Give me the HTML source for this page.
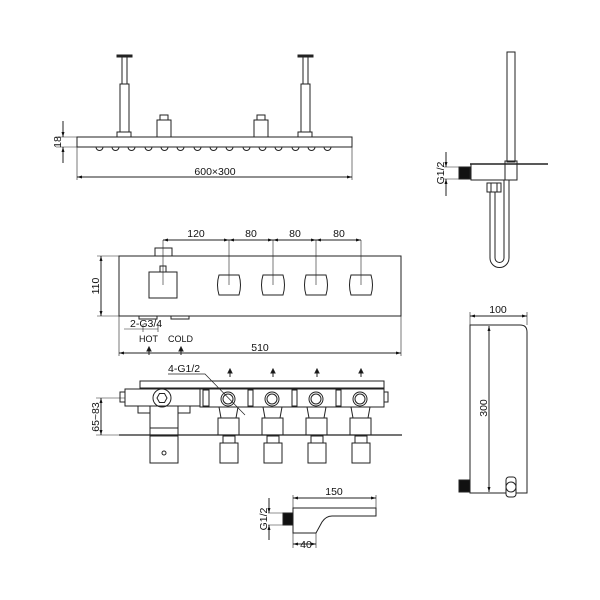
<!DOCTYPE html>
<html><head><style>body{margin:0;background:#fff}svg{display:block}text{font-family:"Liberation Sans",sans-serif;font-size:10.5px;fill:#111}</style></head>
<body>
<svg width="600" height="600" viewBox="0 0 600 600" xmlns="http://www.w3.org/2000/svg">
<defs>
<marker id="a" viewBox="0 0 10 10" refX="10" refY="5" markerWidth="7" markerHeight="5" orient="auto-start-reverse"><path d="M0,2 L10,5 L0,8z" fill="#111"/></marker>
</defs>
<g fill="none" stroke="#222" stroke-width="1">
<!-- TOP VIEW -->
<rect x="77" y="137" width="275" height="10"/>
<g id="bumps">
<path d="M96,147 a3.5,3.5 0 0 0 7,0"/><path d="M112,147 a3.5,3.5 0 0 0 7,0"/><path d="M128,147 a3.5,3.5 0 0 0 7,0"/><path d="M145,147 a3.5,3.5 0 0 0 7,0"/><path d="M161,147 a3.5,3.5 0 0 0 7,0"/><path d="M177,147 a3.5,3.5 0 0 0 7,0"/><path d="M194,147 a3.5,3.5 0 0 0 7,0"/><path d="M210,147 a3.5,3.5 0 0 0 7,0"/><path d="M226,147 a3.5,3.5 0 0 0 7,0"/><path d="M243,147 a3.5,3.5 0 0 0 7,0"/><path d="M259,147 a3.5,3.5 0 0 0 7,0"/><path d="M275,147 a3.5,3.5 0 0 0 7,0"/><path d="M292,147 a3.5,3.5 0 0 0 7,0"/><path d="M308,147 a3.5,3.5 0 0 0 7,0"/><path d="M324,147 a3.5,3.5 0 0 0 7,0"/>
</g>
<rect x="117" y="132" width="14" height="5"/><rect x="120" y="84" width="9" height="48"/><rect x="122" y="57" width="5" height="27"/><rect x="117" y="55" width="15" height="2" fill="#222"/>
<rect x="298" y="132" width="14" height="5"/><rect x="301" y="84" width="9" height="48"/><rect x="303" y="57" width="5" height="27"/><rect x="298" y="55" width="15" height="2" fill="#222"/>
<rect x="157" y="120" width="14" height="17"/><rect x="160" y="115" width="8" height="5"/>
<rect x="254" y="120" width="14" height="17"/><rect x="257" y="115" width="8" height="5"/>
<path d="M56,137 H77 M56,147 H77" stroke-width=".6"/>
<line x1="63" y1="121" x2="63" y2="137" marker-end="url(#a)"/><line x1="63" y1="163" x2="63" y2="147" marker-end="url(#a)"/>
<path d="M77,147 V180 M352,147 V180" stroke-width=".6"/>
<line x1="77" y1="177" x2="352" y2="177" marker-start="url(#a)" marker-end="url(#a)"/>

<!-- FRONT PANEL -->
<rect x="119" y="256" width="282" height="60"/>
<rect x="155" y="248" width="17" height="8"/>
<rect x="149" y="272" width="28" height="26"/><rect x="160" y="266" width="6" height="6"/>
<g id="knobs">
<path d="M219,275 h20 q3,10 0,20 h-20 q-3,-10 0,-20z"/><path d="M263,275 h20 q3,10 0,20 h-20 q-3,-10 0,-20z"/><path d="M306,275 h20 q3,10 0,20 h-20 q-3,-10 0,-20z"/><path d="M351,275 h20 q3,10 0,20 h-20 q-3,-10 0,-20z"/>
</g>
<path d="M163,240 V285 M229,240 V285 M273,240 V285 M316,240 V285 M361,240 V285" stroke-width=".6"/>
<line x1="163" y1="240" x2="229" y2="240" marker-start="url(#a)" marker-end="url(#a)"/>
<line x1="229" y1="240" x2="273" y2="240" marker-start="url(#a)" marker-end="url(#a)"/>
<line x1="273" y1="240" x2="316" y2="240" marker-start="url(#a)" marker-end="url(#a)"/>
<line x1="316" y1="240" x2="361" y2="240" marker-start="url(#a)" marker-end="url(#a)"/>
<path d="M97,256 H119 M97,316 H119" stroke-width=".6"/>
<line x1="101" y1="256" x2="101" y2="316" marker-start="url(#a)" marker-end="url(#a)"/>
<rect x="139" y="316" width="18" height="3"/><rect x="171" y="316" width="18" height="3"/>
<path d="M124,329 H158 M143,324 V332 M158,324 V332" stroke-width=".6"/>
<path d="M149,355 V349 M181,355 V349" /><path d="M147,351 L149,347 L151,351z M179,351 L181,347 L183,351z" fill="#111"/>
<path d="M119,316 V356 M401,316 V356" stroke-width=".6"/>
<line x1="119" y1="353" x2="401" y2="353" marker-start="url(#a)" marker-end="url(#a)"/>

<!-- MANIFOLD -->
<rect x="140" y="381" width="244" height="7"/>
<line x1="119" y1="435" x2="402" y2="435" stroke-width="1.3"/>
<rect x="125" y="389" width="75" height="17" fill="#fff"/>
<rect x="120" y="392" width="5" height="10"/>
<circle cx="162" cy="398" r="9" fill="#fff"/><polygon points="157,398 159.5,393.5 164.5,393.5 167,398 164.5,402.5 159.5,402.5"/>
<rect x="138" y="406" width="12" height="7"/><rect x="178" y="406" width="12" height="7"/>
<rect x="150" y="406" width="28" height="22"/><rect x="150" y="428" width="28" height="7"/>
<rect x="150" y="436" width="28" height="27"/><circle cx="164" cy="453" r="2"/>
<rect x="200" y="389" width="184" height="18" fill="#fff"/>
<rect x="384" y="392" width="4" height="10"/>
<rect x="203" y="390" width="6" height="16"/><rect x="248" y="390" width="5" height="16"/><rect x="292" y="390" width="5" height="16"/><rect x="336" y="390" width="5" height="16"/>
<g id="valves">
<circle cx="228" cy="399" r="7"/><circle cx="228" cy="399" r="5"/><path d="M219,407 L221,418 H236 L238,407"/><rect x="218" y="418" width="21" height="17"/><rect x="220" y="443" width="18" height="20"/><rect x="223" y="436" width="12" height="7"/>
<circle cx="272" cy="399" r="7"/><circle cx="272" cy="399" r="5"/><path d="M263,407 L265,418 H280 L282,407"/><rect x="262" y="418" width="21" height="17"/><rect x="264" y="443" width="18" height="20"/><rect x="267" y="436" width="12" height="7"/>
<circle cx="316" cy="399" r="7"/><circle cx="316" cy="399" r="5"/><path d="M307,407 L309,418 H324 L326,407"/><rect x="306" y="418" width="21" height="17"/><rect x="308" y="443" width="18" height="20"/><rect x="311" y="436" width="12" height="7"/>
<circle cx="360" cy="399" r="7"/><circle cx="360" cy="399" r="5"/><path d="M351,407 L353,418 H368 L370,407"/><rect x="350" y="418" width="21" height="17"/><rect x="352" y="443" width="18" height="20"/><rect x="355" y="436" width="12" height="7"/>
</g>
<path d="M230,377 V372 M273,377 V372 M317,377 V372 M361,377 V372"/>
<path d="M228,373 L230,369 L232,373z M271,373 L273,369 L275,373z M315,373 L317,369 L319,373z M359,373 L361,369 L363,373z" fill="#111"/>
<path d="M168,374 H205 L245,415" stroke-width=".7"/>
<path d="M96,398 H125 M96,435 H119" stroke-width=".6"/>
<line x1="101" y1="398" x2="101" y2="435" marker-start="url(#a)" marker-end="url(#a)"/>

<!-- RIGHT TOP -->
<rect x="507" y="52" width="8" height="110"/>
<line x1="470" y1="164" x2="548" y2="164" stroke-width="1.5"/>
<rect x="471" y="164" width="46" height="16"/>
<rect x="505" y="161" width="12" height="19"/>
<rect x="459" y="167" width="11" height="12" fill="#111"/>
<path d="M490,192 V258 A9.5,9.5 0 0 0 509,258 V180 M495,192 V258 A4.5,4.5 0 0 0 504,258 V180"/>
<rect x="487" y="183" width="14" height="9" fill="#fff"/><path d="M491,183 V192 M497,183 V192"/>
<path d="M444,167 H459 M444,179 H459" stroke-width=".6"/>
<line x1="446" y1="152" x2="446" y2="167" marker-end="url(#a)"/><line x1="446" y1="196" x2="446" y2="179" marker-end="url(#a)"/>

<!-- RIGHT BOTTOM -->
<path d="M470,325 H520 Q527,325 527,332 V493 H470 Z"/>
<rect x="459" y="480" width="11" height="12" fill="#111"/>
<rect x="506" y="477" width="10" height="20" rx="3" fill="#fff"/><circle cx="511" cy="487" r="5"/>
<path d="M470,312 V325 M527,312 V325" stroke-width=".6"/>
<line x1="470" y1="316" x2="527" y2="316" marker-start="url(#a)" marker-end="url(#a)"/>
<line x1="489" y1="326" x2="489" y2="492" marker-start="url(#a)" marker-end="url(#a)"/>

<!-- SPOUT -->
<path d="M293,508 H376 V516 H332 Q326,516 322,522 L316,533 H293 Z"/>
<rect x="283" y="513" width="10" height="12" fill="#111"/>
<path d="M268,513 H283 M268,525 H283" stroke-width=".6"/>
<line x1="269" y1="498" x2="269" y2="513" marker-end="url(#a)"/><line x1="269" y1="540" x2="269" y2="525" marker-end="url(#a)"/>
<path d="M293,495 V508 M376,495 V508 M293,533 V548 M316,533 V548" stroke-width=".6"/>
<line x1="293" y1="498" x2="376" y2="498" marker-start="url(#a)" marker-end="url(#a)"/>
<line x1="293" y1="544" x2="316" y2="544" marker-start="url(#a)" marker-end="url(#a)"/>
</g>

<text x="215" y="175" text-anchor="middle">600×300</text>
<text transform="translate(61,142) rotate(-90)" text-anchor="middle">18</text>
<text x="196" y="237" text-anchor="middle">120</text>
<text x="251" y="237" text-anchor="middle">80</text>
<text x="295" y="237" text-anchor="middle">80</text>
<text x="339" y="237" text-anchor="middle">80</text>
<text transform="translate(99,286) rotate(-90)" text-anchor="middle">110</text>
<text x="130" y="327">2-G3/4</text>
<text x="139" y="342" style="font-size:9px">HOT</text>
<text x="168" y="342" style="font-size:9px">COLD</text>
<text x="260" y="351" text-anchor="middle">510</text>
<text x="168" y="372">4-G1/2</text>
<text transform="translate(99,417) rotate(-90)" text-anchor="middle">65~83</text>
<text transform="translate(444,173) rotate(-90)" text-anchor="middle">G1/2</text>
<text x="498" y="313" text-anchor="middle">100</text>
<text transform="translate(487,408) rotate(-90)" text-anchor="middle">300</text>
<text x="334" y="495" text-anchor="middle">150</text>
<text transform="translate(267,519) rotate(-90)" text-anchor="middle">G1/2</text>
<text x="306" y="548" text-anchor="middle">40</text>
</svg>
</body></html>
